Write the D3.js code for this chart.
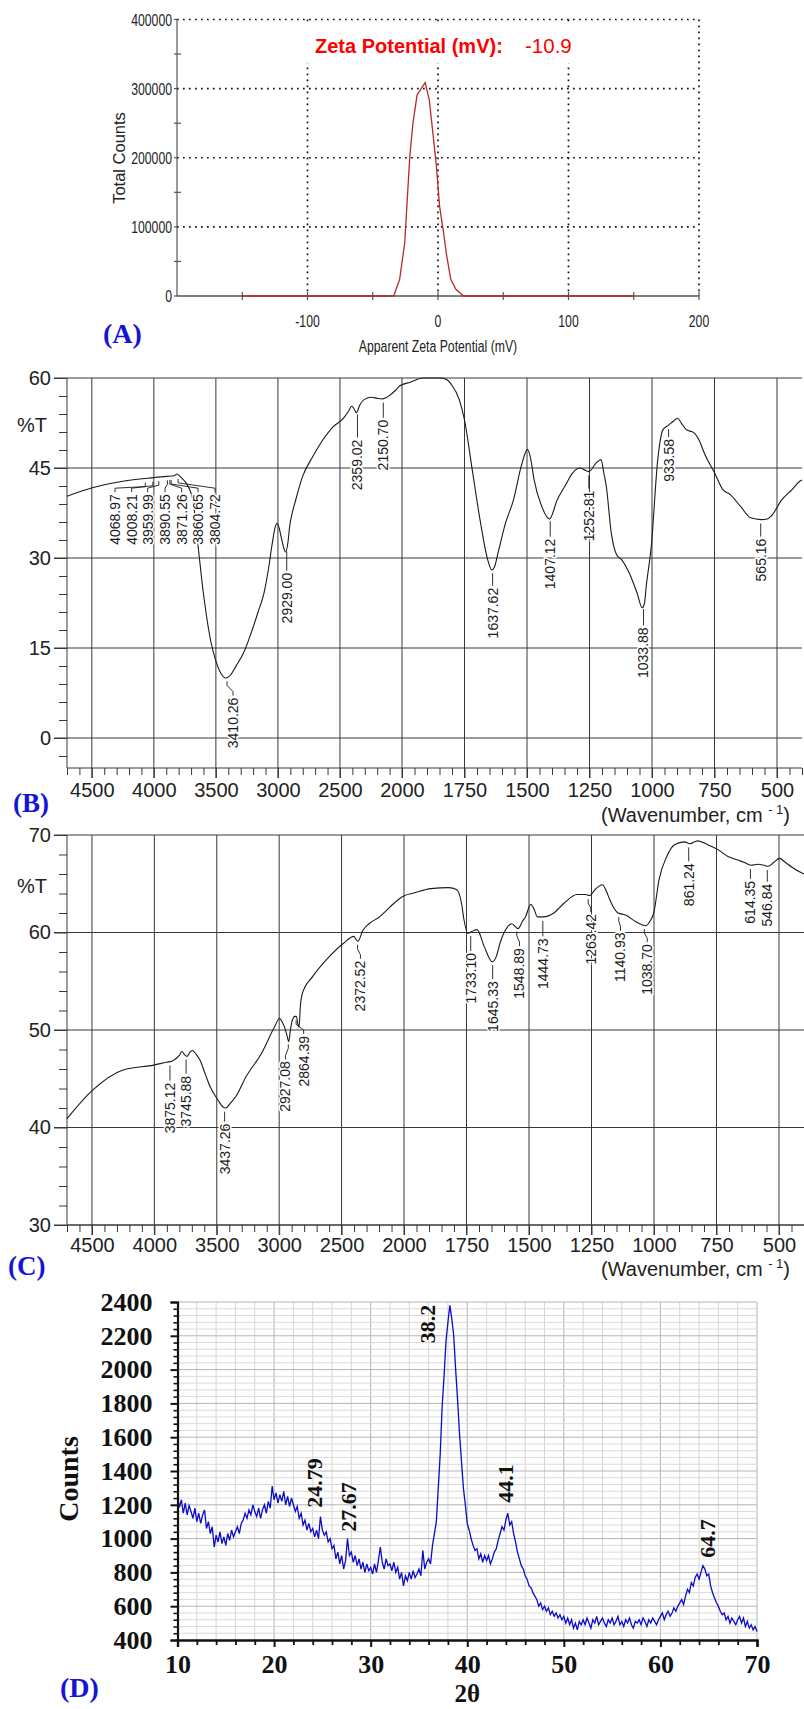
<!DOCTYPE html>
<html>
<head>
<meta charset="utf-8">
<script src="https://cdnjs.cloudflare.com/ajax/libs/d3/7.8.5/d3.min.js"></script>
<style>
  body { margin: 0; background: #fff; }
  svg { display: block; background: #fff; }
</style>
</head>
<body>
<svg width="804" height="1709"></svg>
<script>
// ---- (A) zeta potential ----
const zetaMv     = [-150, -34, -29.4, -25.5, -21.6, -19.2, -16, -12.9, -9.8, -6.7, -3.9, -1.2, 1.2, 4.3, 6.7, 9.8, 13.7, 19.6, 150];
const zetaCounts = [0, 0, 24000, 77000, 202000, 250000, 291000, 300000, 308700, 283600, 235500, 187500, 130000, 91000, 57700, 24000, 9600, 0, 0];
const zetaXTicks = [-100, 0, 100, 200];
const zetaYTicks = [0, 100000, 200000, 300000, 400000];

// ---- (B) FTIR spectrum 1 ----
const irBWave = [4700, 4496, 4249, 4000, 3900, 3838, 3813, 3790, 3760, 3720, 3690, 3665, 3642, 3614, 3587, 3540, 3504, 3460, 3422, 3390,
  3340, 3270, 3216, 3160, 3112, 3070, 3049, 3020, 3008, 2990, 2975, 2950, 2938, 2920, 2905, 2885, 2863, 2801, 2719, 2637,
  2554, 2471, 2430, 2405, 2385, 2368, 2340, 2306, 2244, 2200, 2162, 2130, 2100, 2050, 2017, 1967, 1916, 1843, 1820, 1802,
  1771, 1750, 1719, 1688, 1657, 1641, 1630, 1616, 1586, 1554, 1523, 1498, 1485, 1472, 1441, 1410, 1379, 1348, 1317, 1290,
  1265, 1252, 1224, 1204, 1192, 1183, 1163, 1142, 1121, 1091, 1060, 1039, 1030, 1023, 1003, 977, 956, 935, 915, 898,
  880, 863, 833, 810, 791, 750, 715, 688, 646, 605, 564, 540, 523, 481, 440, 409, 400];
const irBT = [40.3, 41.7, 42.8, 43.4, 43.6, 43.7, 44.0, 43.6, 43.0, 41.8, 40.0, 36.5, 31.7, 26.4, 22.0, 16.0, 13.1, 10.8, 10.0, 10.3,
  11.9, 14.5, 17.5, 21.0, 24.2, 29.0, 32.0, 35.3, 35.8, 35.0, 33.6, 31.5, 31.0, 32.5, 35.3, 37.5, 39.2, 43.6, 46.9, 49.7,
  51.9, 53.3, 54.5, 55.3, 54.8, 54.2, 55.5, 56.4, 56.8, 56.6, 56.5, 56.7, 57.1, 58.0, 58.7, 59.3, 60.0, 60.0, 59.7, 58.9,
  56.4, 53.0, 44.7, 36.4, 29.7, 28.0, 28.5, 30.8, 35.8, 39.7, 45.3, 48.1, 46.5, 43.1, 38.6, 36.5, 39.7, 42.0, 44.2, 45.0,
  44.6, 44.4, 45.8, 46.4, 44.0, 42.0, 34.2, 30.6, 29.7, 27.5, 24.2, 21.7, 22.5, 25.3, 31.9, 46.4, 51.4, 52.1, 52.8, 53.3,
  52.3, 51.4, 50.9, 49.5, 47.5, 44.2, 41.3, 40.6, 38.6, 36.7, 36.4, 36.5, 37.0, 39.7, 41.4, 42.8, 43.0];
const irBPeaks = ["4068.97", "4008.21", "3959.99", "3890.55", "3871.26", "3860.65", "3804.72", "3410.26", "2929.00", "2359.02",
  "2150.70", "1637.62", "1407.12", "1252.81", "1033.88", "933.58", "565.16"];
const irBLabelWave = [4313, 4179, 4050, 3910, 3776, 3644, 3507, 3362, 2929, 2359, 2150.7, 1637.62, 1407.12, 1252.81, 1033.88, 933.58, 565.16];
const irBLabelTop = [40.8, 40.8, 40.8, 40.8, 40.8, 40.8, 40.8, 6.9, 27.7, 49.9, 53.2, 25.2, 33.4, 41.4, 18.6, 50.0, 33.4];
const irBYTicks = [0, 15, 30, 45, 60];

// ---- (C) FTIR spectrum 2 ----
const irCWave = [4700, 4497, 4251, 4005, 3900, 3860, 3800, 3779, 3760, 3737, 3716, 3696, 3665, 3634, 3590, 3554, 3490, 3450, 3429, 3390,
  3346, 3266, 3142, 3038, 2997, 2975, 2957, 2935, 2924, 2910, 2895, 2875, 2862, 2850, 2841, 2830, 2813, 2731, 2608, 2484,
  2402, 2385, 2369, 2330, 2280, 2196, 2114, 2011, 1954, 1893, 1821, 1790, 1770, 1760, 1745, 1729, 1708, 1678, 1647, 1630,
  1616, 1585, 1569, 1544, 1525, 1514, 1493, 1480, 1466, 1442, 1401, 1360, 1308, 1275, 1257, 1236, 1206, 1190, 1176, 1144,
  1114, 1072, 1032, 1015, 1001, 980, 949, 918, 878, 857, 826, 785, 744, 704, 662, 640, 612, 584, 560, 544,
  520, 498, 475, 448, 416, 400];
const irCT = [40.9, 43.8, 45.9, 46.4, 46.7, 46.8, 47.4, 47.8, 47.5, 47.3, 47.7, 47.9, 47.5, 46.9, 45.4, 44.2, 42.8, 42.1, 42.0, 42.5,
  43.2, 45.2, 47.6, 50.3, 51.2, 50.8, 50.3, 49.3, 48.8, 50.0, 51.0, 51.4, 51.4, 50.6, 50.3, 52.5, 53.8, 55.5, 57.4, 58.9,
  59.6, 59.3, 59.1, 60.2, 60.9, 61.6, 62.6, 63.7, 64.1, 64.5, 64.6, 64.4, 63.0, 61.3, 59.9, 60.1, 60.3, 58.5, 57.0, 57.6,
  58.9, 60.6, 60.9, 60.4, 61.2, 61.6, 62.9, 62.4, 61.6, 61.6, 62.0, 63.0, 63.9, 63.9, 63.8, 64.4, 64.9, 64.2, 63.3, 62.0,
  61.8, 61.1, 60.7, 61.2, 62.0, 65.4, 67.8, 69.0, 69.3, 69.1, 69.4, 69.0, 68.5, 67.8, 67.4, 67.2, 66.9, 67.0, 66.9, 66.8,
  67.2, 67.6, 67.2, 66.7, 66.2, 66.0];
const irCPeaks = ["3875.12", "3745.88", "3437.26", "2927.08", "2864.39", "2372.52", "1733.10", "1645.33", "1548.89", "1444.73",
  "1263.42", "1140.93", "1038.70", "861.24", "614.35", "546.84"];
const irCLabelWave = [3875.12, 3745.88, 3437.26, 2949, 2804, 2349, 1733.1, 1645.33, 1538, 1444.73, 1252.8, 1134, 1027, 861.24, 614.35, 546.84];
const irCLabelTop = [44.7, 45.4, 40.5, 46.9, 49.5, 57.2, 58.0, 55.1, 58.5, 59.5, 62.0, 60.1, 58.9, 67.2, 65.4, 65.1];
const irCYTicks = [30, 40, 50, 60, 70];

const irXTicks = [4500, 4000, 3500, 3000, 2500, 2000, 1750, 1500, 1250, 1000, 750, 500];

// ---- (D) XRD pattern, 2θ from 10 to 70 in 0.2° steps ----
const xrdStart = 10, xrdStep = 0.2;
const xrdCounts = [
  1250, 1185, 1230, 1150, 1210, 1140, 1195, 1160, 1120, 1180,
  1100, 1150, 1090, 1140, 1170, 1060, 1100, 1030, 1070, 950,
  1020, 980, 1040, 970, 1010, 960, 1030, 990, 1050, 1010,
  1040, 1070, 1030, 1090, 1110, 1150, 1120, 1170, 1140, 1200,
  1160, 1130, 1180, 1120, 1170, 1200, 1150, 1220, 1180, 1310,
  1230, 1270, 1210, 1260, 1220, 1280, 1200, 1250, 1190, 1240,
  1200, 1160, 1190, 1120, 1150, 1080, 1110, 1050, 1090, 1040,
  1060, 1010, 1050, 1000, 1130, 1050, 1020, 1040, 980, 1000,
  940, 960, 880, 920, 850, 900, 820, 870, 1000, 900,
  920, 860, 900, 840, 880, 820, 860, 800, 850, 810,
  830, 790, 850, 800, 870, 950, 860, 820, 880, 840,
  850, 810, 860, 800, 830, 760, 800, 720, 780, 750,
  800, 760, 810, 770, 790, 820, 780, 930, 820, 860,
  880, 850, 960, 1030, 1100, 1300, 1500, 1780, 1960, 2170,
  2280, 2380, 2300, 2200, 2000, 1820, 1620, 1460, 1300, 1200,
  1090, 1050, 1000, 960, 930, 940, 880, 910, 860, 900,
  870, 900, 850, 880, 920, 940, 990, 1030, 1070, 1050,
  1110, 1150, 1080, 1100, 1030, 980, 920, 880, 840, 820,
  780, 760, 720, 710, 680, 660, 640, 600, 620, 580,
  600, 570, 590, 550, 570, 540, 560, 530, 550, 520,
  540, 500, 530, 490, 520, 470, 500, 460, 510, 490,
  520, 490, 530, 500, 470, 520, 500, 540, 490, 510,
  530, 500, 480, 520, 500, 530, 490, 510, 540, 490,
  510, 480, 520, 500, 530, 490, 470, 510, 500, 520,
  490, 530, 510, 480, 520, 500, 530, 510, 490, 520,
  540, 560, 520, 550, 570, 540, 560, 590, 570, 600,
  620, 640, 610, 660, 700, 680, 740, 720, 770, 790,
  760, 800, 840, 820, 780, 790, 720, 680, 650, 620,
  600, 570, 550, 560, 520, 540, 500, 530, 510, 490,
  520, 540, 500, 530, 480, 510, 470, 490, 460, 480,
  450];
const xrdPeakText  = ["24.79", "27.67", "38.2", "44.1", "64.7"];
const xrdLabelAngle = [24.15, 27.67, 35.85, 43.9, 64.9];
const xrdLabelCount = [1329, 1187, 2270, 1326, 1000];
const xrdXTicks = [10, 20, 30, 40, 50, 60, 70];
const xrdYTicks = [400, 600, 800, 1000, 1200, 1400, 1600, 1800, 2000, 2200, 2400];

const SANS = '"Liberation Sans", Arial, sans-serif';
const SERIF = '"Liberation Serif", "Times New Roman", serif';
const BLUE = "#1414d8";

const svg = d3.select("svg");

// narrow text like the instrument software output
function narrowText(g, x, y, str, size, anchor, sx) {
  g.append("text")
    .attr("transform", `translate(${x},${y}) scale(${sx},1)`)
    .attr("text-anchor", anchor)
    .attr("font-family", SANS)
    .attr("font-size", size)
    .attr("fill", "#222")
    .text(str);
}

function panelTag(x, y, str, size) {
  svg.append("text")
    .attr("x", x).attr("y", y)
    .attr("font-family", SERIF).attr("font-weight", "bold")
    .attr("font-size", size).attr("fill", BLUE)
    .text(str);
}

function drawZeta() {
  const x = d3.scaleLinear().domain([-200, 200]).range([177, 699]);
  const y = d3.scaleLinear().domain([0, 400000]).range([296, 19.5]);
  const g = svg.append("g");

  g.selectAll(".hgrid").data(zetaYTicks.slice(1)).enter().append("line")
    .attr("x1", x(-200)).attr("x2", x(200))
    .attr("y1", d => y(d)).attr("y2", d => y(d))
    .attr("stroke", "#111").attr("stroke-width", 1.7).attr("stroke-dasharray", "1.7,4.3");
  g.selectAll(".vgrid").data(zetaXTicks).enter().append("line")
    .attr("x1", d => x(d)).attr("x2", d => x(d))
    .attr("y1", y(400000)).attr("y2", y(0))
    .attr("stroke", "#111").attr("stroke-width", 1.7).attr("stroke-dasharray", "1.7,4.3");

  // title sits on a white box that hides part of the grid
  g.append("rect").attr("x", 300).attr("y", 23).attr("width", 278).attr("height", 40).attr("fill", "#fff");
  g.append("text").attr("x", 315).attr("y", 53)
    .attr("font-family", SANS).attr("font-weight", "bold").attr("font-size", 20).attr("fill", "#f00")
    .text("Zeta Potential (mV):");
  g.append("text").attr("x", 525).attr("y", 53)
    .attr("font-family", SANS).attr("font-size", 20.5).attr("fill", "#f00")
    .text("-10.9");

  // axes
  g.append("line").attr("x1", x(-200)).attr("x2", x(200)).attr("y1", y(0)).attr("y2", y(0))
    .attr("stroke", "#555").attr("stroke-width", 1.4);
  g.append("line").attr("x1", x(-200)).attr("x2", x(-200)).attr("y1", y(400000)).attr("y2", y(0))
    .attr("stroke", "#555").attr("stroke-width", 1.2);
  g.selectAll(".xt").data(d3.range(-150, 201, 50)).enter().append("line")
    .attr("x1", d => x(d)).attr("x2", d => x(d)).attr("y1", y(0) - 4).attr("y2", y(0) + 4)
    .attr("stroke", "#555").attr("stroke-width", 1.2);
  g.selectAll(".yt").data(d3.range(50000, 400000, 100000)).enter().append("line")
    .attr("x1", x(-200) - 3).attr("x2", x(-200) + 4).attr("y1", d => y(d)).attr("y2", d => y(d))
    .attr("stroke", "#555").attr("stroke-width", 1.2);
  g.selectAll(".yt2").data(zetaYTicks).enter().append("line")
    .attr("x1", x(-200) - 3).attr("x2", x(-200)).attr("y1", d => y(d)).attr("y2", d => y(d))
    .attr("stroke", "#555").attr("stroke-width", 1.2);

  zetaYTicks.forEach(d => narrowText(g, x(-200) - 5, y(d) + 6, String(d), 17, "end", 0.72));
  zetaXTicks.forEach(d => narrowText(g, x(d), 327, String(d), 17, "middle", 0.72));
  narrowText(g, x(0), 352, "Apparent Zeta Potential (mV)", 17, "middle", 0.72);

  g.append("text")
    .attr("transform", `translate(125,158) rotate(-90)`)
    .attr("text-anchor", "middle")
    .attr("font-family", SANS).attr("font-size", 16.5).attr("fill", "#222")
    .text("Total Counts");

  const pts = zetaMv.map((m, i) => [m, zetaCounts[i]]);
  g.append("path").datum(pts)
    .attr("d", d3.line().x(d => x(d[0])).y(d => y(d[1])))
    .attr("fill", "none").attr("stroke", "#b52a2a").attr("stroke-width", 1.3);

  panelTag(103, 343, "(A)", 28);
}

function transAt(wave, trans, w) {
  for (let i = 0; i < wave.length - 1; i++) {
    if (wave[i] >= w && w >= wave[i + 1]) {
      const t = (wave[i] - w) / (wave[i] - wave[i + 1]);
      return trans[i] + t * (trans[i + 1] - trans[i]);
    }
  }
  return trans[trans.length - 1];
}

function drawIR(o) {
  const g = svg.append("g");
  const x = o.x, y = o.y;
  const xl = x.range()[0], xr = x.range()[2];
  const [ymin, ymax] = y.domain();
  const yTop = y(ymax), yBot = y(ymin);

  // grid
  g.selectAll(".vg").data(irXTicks).enter().append("line")
    .attr("x1", d => x(d)).attr("x2", d => x(d)).attr("y1", yTop).attr("y2", yBot + 10)
    .attr("stroke", "#383838").attr("stroke-width", 1);
  g.selectAll(".hg").data(o.yTicks).enter().append("line")
    .attr("x1", xl - 13).attr("x2", xr).attr("y1", d => y(d)).attr("y2", d => y(d))
    .attr("stroke", "#383838").attr("stroke-width", 1);
  g.append("line").attr("x1", xl).attr("x2", xl).attr("y1", yTop).attr("y2", yBot)
    .attr("stroke", "#383838");
  g.append("line").attr("x1", xl).attr("x2", xr).attr("y1", yBot).attr("y2", yBot)
    .attr("stroke", "#383838");

  // y axis
  g.append("g").attr("transform", `translate(${xl},0)`)
    .call(d3.axisLeft(y).tickValues(o.yTicks).tickSize(13).tickPadding(3))
    .call(a => {
      a.select(".domain").remove();
      a.selectAll("line").attr("stroke", "#383838");
      a.selectAll("text").attr("font-family", SANS).attr("font-size", 20).attr("fill", "#222");
    });
  g.append("g").attr("transform", `translate(${xl},0)`)
    .call(d3.axisLeft(y).tickValues(o.yMinor).tickSize(8).tickFormat(""))
    .call(a => { a.select(".domain").remove(); a.selectAll("line").attr("stroke", "#383838"); });

  // x axis
  g.append("g").attr("transform", `translate(0,${yBot})`)
    .call(d3.axisBottom(x).tickValues(irXTicks).tickSize(10).tickPadding(o.xPad).tickFormat(d3.format("d")))
    .call(a => {
      a.select(".domain").remove();
      a.selectAll("line").attr("stroke", "#383838");
      a.selectAll("text").attr("font-family", SANS).attr("font-size", 20).attr("fill", "#222");
    });
  const minor = d3.range(4700, 2000, -100).concat(d3.range(1950, 399, -50)).filter(d => !irXTicks.includes(d));
  g.append("g").attr("transform", `translate(0,${yBot})`)
    .call(d3.axisBottom(x).tickValues(minor).tickSize(7).tickFormat(""))
    .call(a => { a.select(".domain").remove(); a.selectAll("line").attr("stroke", "#383838"); });

  const tl = g.append("text")
    .attr("x", 790).attr("y", o.unitY)
    .attr("text-anchor", "end")
    .attr("font-family", SANS).attr("font-size", 20).attr("fill", "#222");
  tl.append("tspan").text("(Wavenumber, cm ");
  tl.append("tspan").attr("dy", -8).attr("font-size", 13).text("- 1");
  tl.append("tspan").attr("dy", 8).text(")");

  g.append("text").attr("x", 17).attr("y", o.pctY)
    .attr("font-family", SANS).attr("font-size", 20).attr("fill", "#222").text("%T");

  // spectrum
  const pts = o.wave.map((w, i) => [w, o.trans[i]]);
  g.append("path").datum(pts)
    .attr("d", d3.line().x(d => x(d[0])).y(d => y(d[1])).curve(d3.curveMonotoneX))
    .attr("fill", "none").attr("stroke", "#1a1a1a").attr("stroke-width", 1.1);

  // peak labels with leader lines
  o.peaks.forEach((p, i) => {
    const pw = +p;
    const px = x(pw), py = y(transAt(o.wave, o.trans, pw)) + 4;
    const lx = x(o.labelWave[i]), ly = y(o.labelTop[i]) - 1;
    const line = Math.abs(px - lx) < 1.5
      ? [[lx, py], [lx, ly]]
      : [[px, py], [px, py + 4], [lx, ly - 4], [lx, ly]];
    g.append("path")
      .attr("d", d3.line()(line))
      .attr("fill", "none").attr("stroke", "#1a1a1a").attr("stroke-width", 0.9);
    g.append("text")
      .attr("transform", `translate(${lx},${ly + 2}) rotate(-90)`)
      .attr("text-anchor", "end").attr("dy", "0.35em")
      .attr("font-family", SANS).attr("font-size", 14).attr("fill", "#1a1a1a")
      .attr("stroke", "#fff").attr("stroke-width", 3).attr("paint-order", "stroke")
      .text(p);
  });

  panelTag(o.tagX, o.tagY, o.tag, 27);
}

function drawXRD() {
  const x = d3.scaleLinear().domain([10, 70]).range([177.5, 757]);
  const y = d3.scaleLinear().domain([400, 2400]).range([1640, 1302]);
  const g = svg.append("g");

  const vMinor = d3.range(12, 71, 2);
  g.selectAll(".vg").data(vMinor).enter().append("line")
    .attr("x1", d => x(d)).attr("x2", d => x(d)).attr("y1", y(2400)).attr("y2", y(400))
    .attr("stroke", d => d % 10 === 0 ? "#b4b4b4" : "#d6d6d6").attr("stroke-width", 1);
  const hMinor = d3.range(440, 2401, 40);
  g.selectAll(".hg").data(hMinor).enter().append("line")
    .attr("x1", x(10)).attr("x2", x(70)).attr("y1", d => y(d)).attr("y2", d => y(d))
    .attr("stroke", d => d % 200 === 0 ? "#b4b4b4" : "#dadada").attr("stroke-width", 1);

  const pts = xrdCounts.map((c, i) => [xrdStart + i * xrdStep, c]);
  g.append("path").datum(pts)
    .attr("d", d3.line().x(d => x(d[0])).y(d => y(d[1])))
    .attr("fill", "none").attr("stroke", "#0b0bc8").attr("stroke-width", 1.3);

  g.append("g").attr("transform", `translate(${x(10)},0)`)
    .call(d3.axisLeft(y).tickValues(xrdYTicks).tickSize(7).tickPadding(18).tickFormat(d3.format("d")))
    .call(a => {
      a.select(".domain").attr("stroke", "#111").attr("stroke-width", 2.2);
      a.selectAll("line").attr("stroke", "#111").attr("stroke-width", 2);
      a.selectAll("text").attr("font-family", SERIF).attr("font-weight", "bold")
        .attr("font-size", 26).attr("fill", "#111");
    });
  g.append("g").attr("transform", `translate(${x(10)},0)`)
    .call(d3.axisLeft(y).tickValues(hMinor.filter(d => d % 200 !== 0)).tickSize(4).tickFormat(""))
    .call(a => { a.select(".domain").remove(); a.selectAll("line").attr("stroke", "#111").attr("stroke-width", 1.6); });

  g.append("g").attr("transform", `translate(0,${y(400)})`)
    .call(d3.axisBottom(x).tickValues(xrdXTicks).tickSize(7).tickPadding(8).tickFormat(d3.format("d")))
    .call(a => {
      a.select(".domain").attr("stroke", "#111").attr("stroke-width", 2.4);
      a.selectAll("line").attr("stroke", "#111").attr("stroke-width", 2);
      a.selectAll("text").attr("font-family", SERIF).attr("font-weight", "bold")
        .attr("font-size", 26).attr("fill", "#111");
    });
  g.append("g").attr("transform", `translate(0,${y(400)})`)
    .call(d3.axisBottom(x).tickValues(vMinor.filter(d => d % 10 !== 0)).tickSize(5).tickFormat(""))
    .call(a => { a.select(".domain").remove(); a.selectAll("line").attr("stroke", "#111").attr("stroke-width", 1.8); });

  g.append("text")
    .attr("transform", `translate(68,1479) rotate(-90)`)
    .attr("text-anchor", "middle").attr("dy", "0.35em")
    .attr("font-family", SERIF).attr("font-weight", "bold").attr("font-size", 28).attr("fill", "#111")
    .text("Counts");
  g.append("text").attr("x", x(40)).attr("y", 1702)
    .attr("text-anchor", "middle")
    .attr("font-family", SERIF).attr("font-weight", "bold").attr("font-size", 25).attr("fill", "#111")
    .text("2θ");

  xrdPeakText.forEach((t, i) => {
    g.append("text")
      .attr("transform", `translate(${x(xrdLabelAngle[i])},${y(xrdLabelCount[i])}) rotate(-90)`)
      .attr("text-anchor", "middle").attr("dy", "0.35em")
      .attr("font-family", SERIF).attr("font-weight", "bold").attr("font-size", 22).attr("fill", "#111")
      .text(t);
  });

  panelTag(60, 1697, "(D)", 28);
}

drawZeta();

drawIR({
  x: d3.scaleLinear().domain([4700, 2000, 400]).range([67, 402, 802]),
  y: d3.scaleLinear().domain([-5, 60]).range([768, 378]),
  yTicks: irBYTicks,
  yMinor: d3.range(-3, 60, 3).filter(d => !irBYTicks.includes(d)),
  xPad: 5,
  wave: irBWave, trans: irBT,
  peaks: irBPeaks, labelWave: irBLabelWave, labelTop: irBLabelTop,
  unitY: 822, pctY: 432,
  tag: "(B)", tagX: 13, tagY: 812
});

drawIR({
  x: d3.scaleLinear().domain([4700, 2000, 400]).range([67, 404, 804]),
  y: d3.scaleLinear().domain([30, 70]).range([1225, 835]),
  yTicks: irCYTicks,
  yMinor: d3.range(32, 70, 2).filter(d => !irCYTicks.includes(d)),
  xPad: 3,
  wave: irCWave, trans: irCT,
  peaks: irCPeaks, labelWave: irCLabelWave, labelTop: irCLabelTop,
  unitY: 1276, pctY: 893,
  tag: "(C)", tagX: 8, tagY: 1275
});

drawXRD();
</script>
</body>
</html>
